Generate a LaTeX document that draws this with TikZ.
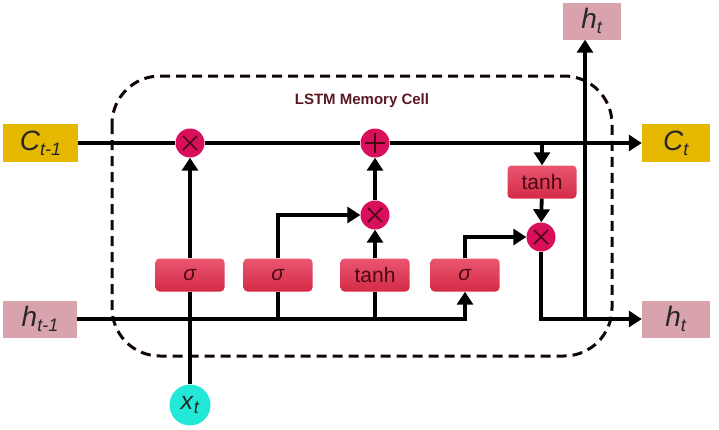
\documentclass[tikz,border=0pt]{standalone}
\usepackage{fontspec}
\setmainfont{Liberation Sans}
\usetikzlibrary{arrows.meta}
\definecolor{goldbox}{HTML}{E6B800}
\definecolor{hpink}{HTML}{D9A3AE}
\definecolor{gatetop}{HTML}{EA5670}
\definecolor{gatebot}{HTML}{D42A46}
\definecolor{opmag}{HTML}{D8105C}
\definecolor{cyanx}{HTML}{22E8D8}
\definecolor{maroon}{HTML}{5A1A24}
\definecolor{gatetext}{HTML}{4A0A14}
\newcommand\lbl[3]{\fontsize{#3}{#3}\selectfont\textit{#1}\raisebox{-0.35ex}{\fontsize{18}{18}\selectfont\textit{#2}}}
\begin{document}
\begin{tikzpicture}[x=1pt,y=-1pt,
  conn/.style={line width=3.8pt, line cap=butt},
  arr/.style={conn, -{Triangle[width=16pt,length=13pt]}},
  border/.style={line width=3pt, dash pattern=on 10pt off 6pt, color=black!80!maroon},
  gatebox/.style={rectangle, rounded corners=4pt, top color=gatetop, bottom color=gatebot, draw=none,
     minimum width=69pt, minimum height=33pt, inner sep=0pt, text=gatetext, font=\fontsize{21}{21}\selectfont},
  goldnode/.style={rectangle, fill=goldbox, minimum width=75pt, minimum height=38pt, inner sep=0pt, text=black!85},
  hnode/.style={rectangle, fill=hpink, minimum width=68pt, minimum height=37pt, inner sep=0pt, text=black!85},
  opnode/.style={circle, fill=opmag, minimum size=29pt, inner sep=0pt},
  times/.style={opnode, path picture={\draw[line width=1.6pt, color=gatetext]
     ([shift={(-7pt,-7pt)}]path picture bounding box.center) -- ([shift={(7pt,7pt)}]path picture bounding box.center)
     ([shift={(-7pt,7pt)}]path picture bounding box.center) -- ([shift={(7pt,-7pt)}]path picture bounding box.center);}},
  plus/.style={opnode, path picture={\draw[line width=1.6pt, color=gatetext]
     ([shift={(-10pt,0pt)}]path picture bounding box.center) -- ([shift={(10pt,0pt)}]path picture bounding box.center)
     ([shift={(0pt,-10pt)}]path picture bounding box.center) -- ([shift={(0pt,10pt)}]path picture bounding box.center);}}
]
\useasboundingbox (0,0) rectangle (719,429);
% dashed memory cell
\draw[border, rounded corners=48pt] (112,76) rectangle (612,356);
\node[font=\bfseries\fontsize{15}{15}\selectfont, text=maroon] (title) at (362,101) {LSTM Memory Cell};
% inputs / outputs
\node[goldnode, minimum width=75pt] (cprev) at (40.5,143) {\lbl{C}{t-1}{28}};
\node[goldnode, minimum width=68pt] (cnext) at (676,143) {\lbl{C}{t}{28}};
\node[hnode, minimum width=74pt] (hprev) at (40,319) {\lbl{h}{t-1}{28}};
\node[hnode] (hnext) at (676,319) {\lbl{h}{t}{28}};
\node[hnode, minimum width=58pt] (htop) at (592,21) {\lbl{h}{t}{28}};
\node[circle, fill=cyanx, minimum size=41pt, inner sep=0pt, text=black!85] (xt) at (190,405) {\lbl{x}{t}{25}};
% operators
\node[times] (m1) at (190,143) {};
\node[plus] (add) at (375,143) {};
\node[times] (m2) at (375,215) {};
\node[times] (m3) at (541,237) {};
% gates
\node[gatebox] (fg) at (190,275) {\textit{σ}};
\node[gatebox] (ig) at (278,275) {\textit{σ}};
\node[gatebox] (gg) at (375,275) {tanh};
\node[gatebox] (og) at (465,275) {\textit{σ}};
\node[gatebox] (tc) at (542,182) {tanh};
% junctions
\coordinate (cb) at (542,143);
\coordinate (hj) at (585,319);
% cell state line
\draw[conn] (cprev) -- (m1);
\draw[conn] (m1) -- (add);
\draw[arr] (add) -- (cnext);
% hidden input line
\draw[arr] (hprev) -| (og.south);
\draw[conn] (xt) -- (xt |- hprev);
\draw[conn] (fg) -- (fg |- hprev);
\draw[conn] (ig) -- (ig |- hprev);
\draw[conn] (gg) -- (gg |- hprev);
% gate outputs
\draw[arr] (fg) -- (m1);
\draw[arr] (ig.north) |- (m2);
\draw[arr] (gg) -- (m2);
\draw[arr] (m2) -- (add);
\draw[arr] (og.north) |- (m3);
\draw[arr] (cb) -- (tc);
\draw[arr] (tc) -- (m3);
\draw[arr] (m3) |- (hnext);
\draw[arr] (hj) -- (hj |- htop.south);
\end{tikzpicture}
\end{document}
